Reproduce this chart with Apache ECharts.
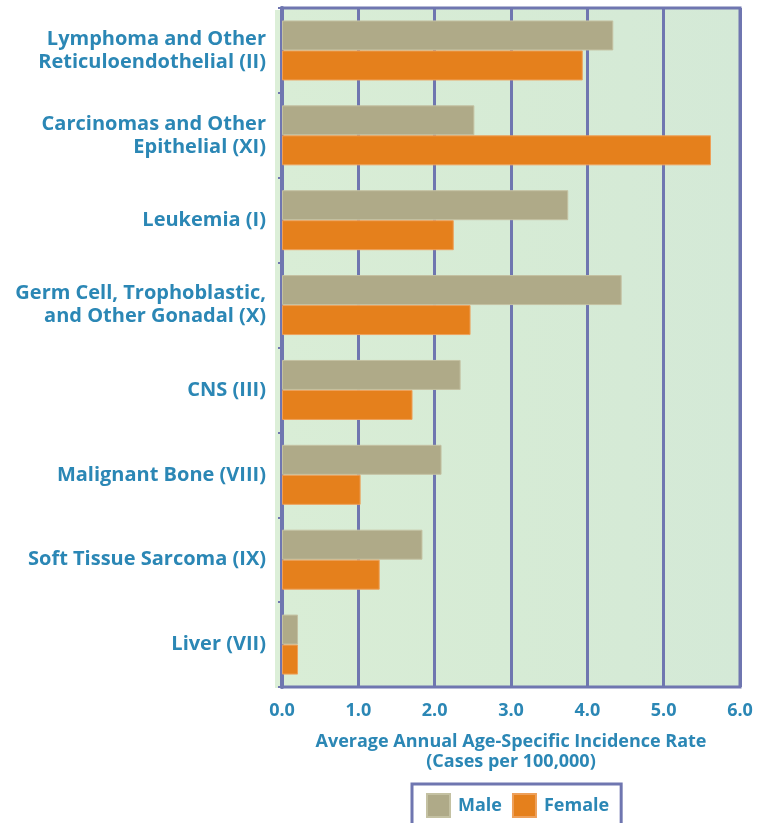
<!DOCTYPE html>
<html>
<head>
<meta charset="utf-8">
<script src="https://cdn.jsdelivr.net/npm/echarts@6/dist/echarts.min.js"></script>
<style>
  html, body { margin: 0; padding: 0; background: #ffffff; }
  #main { width: 759px; height: 823px; }
</style>
</head>
<body>
<div id="main"></div>
<script>
// categories, top to bottom
const categories = [
  'Lymphoma and Other\nReticuloendothelial (II)',
  'Carcinomas and Other\nEpithelial (XI)',
  'Leukemia (I)',
  'Germ Cell, Trophoblastic,\nand Other Gonadal (X)',
  'CNS (III)',
  'Malignant Bone (VIII)',
  'Soft Tissue Sarcoma (IX)',
  'Liver (VII)'
];
const maleRates = [4.34, 2.52, 3.75, 4.45, 2.34, 2.09, 1.84, 0.21];
const femaleRates = [3.94, 5.62, 2.25, 2.47, 1.71, 1.03, 1.28, 0.21];
const xTicks = [0, 1, 2, 3, 4, 5, 6];

const blue = '#2b87b5';
const purple = '#6f76b0';
const font = 'Open Sans';

const myChart = echarts.init(document.getElementById('main'));
myChart.setOption({
  animation: false,
  textStyle: { fontFamily: font },
  graphic: [
    // light strip left of the axis
    { type: 'rect', shape: { x: 275, y: 10, width: 8, height: 678 }, style: { fill: '#dcefd8' }, z: -1 }
  ],
  grid: {
    left: 282,
    right: 19,
    top: 8,
    height: 679,
    show: true,
    borderColor: purple,
    borderWidth: 3,
    backgroundColor: new echarts.graphic.LinearGradient(0, 0, 1, 0, [
      { offset: 0, color: '#d9edd6' },
      { offset: 0.5, color: '#d6ebd5' },
      { offset: 1, color: '#d4e9d7' }
    ])
  },
  legend: {
    data: ['Male', 'Female'],
    left: 412,
    top: 784,
    orient: 'horizontal',
    itemWidth: 23,
    itemHeight: 23,
    itemGap: 10,
    padding: [9, 12, 10, 14],
    borderColor: purple,
    borderWidth: 3,
    backgroundColor: '#ffffff',
    icon: 'rect',
    textStyle: { color: blue, fontSize: 18, fontWeight: 'bold', fontFamily: font, padding: [0, 0, 0, 3] }
  },
  xAxis: {
    type: 'value',
    min: xTicks[0],
    max: xTicks[xTicks.length - 1],
    interval: 1,
    name: 'Average Annual Age-Specific Incidence Rate\n(Cases per 100,000)',
    nameLocation: 'middle',
    nameGap: 45,
    nameTextStyle: { color: blue, fontSize: 18, fontWeight: 'bold', lineHeight: 20, fontFamily: font },
    axisLine: { show: false },
    axisTick: { show: false },
    axisLabel: {
      color: blue, fontSize: 18, fontWeight: 'bold', margin: 15, fontFamily: font,
      formatter: v => v.toFixed(1)
    },
    splitLine: { show: true, lineStyle: { color: purple, width: 3 } }
  },
  yAxis: {
    type: 'category',
    inverse: true,
    data: categories,
    axisLine: { show: true, lineStyle: { color: purple, width: 4 } },
    axisTick: { show: true, length: 4, lineStyle: { color: purple, width: 2 } },
    axisLabel: {
      color: blue, fontSize: 20, fontWeight: 'bold', lineHeight: 23, margin: 16,
      align: 'right', fontFamily: font
    }
  },
  series: [
    {
      name: 'Male',
      type: 'bar',
      data: maleRates,
      barWidth: 30,
      barGap: '0%',
      itemStyle: { color: '#afaa88', borderColor: '#c4c1a2', borderWidth: 1 }
    },
    {
      name: 'Female',
      type: 'bar',
      data: femaleRates,
      barWidth: 30,
      barGap: '0%',
      itemStyle: { color: '#e5801c', borderColor: '#eea05a', borderWidth: 1 }
    }
  ]
});
</script>
</body>
</html>
